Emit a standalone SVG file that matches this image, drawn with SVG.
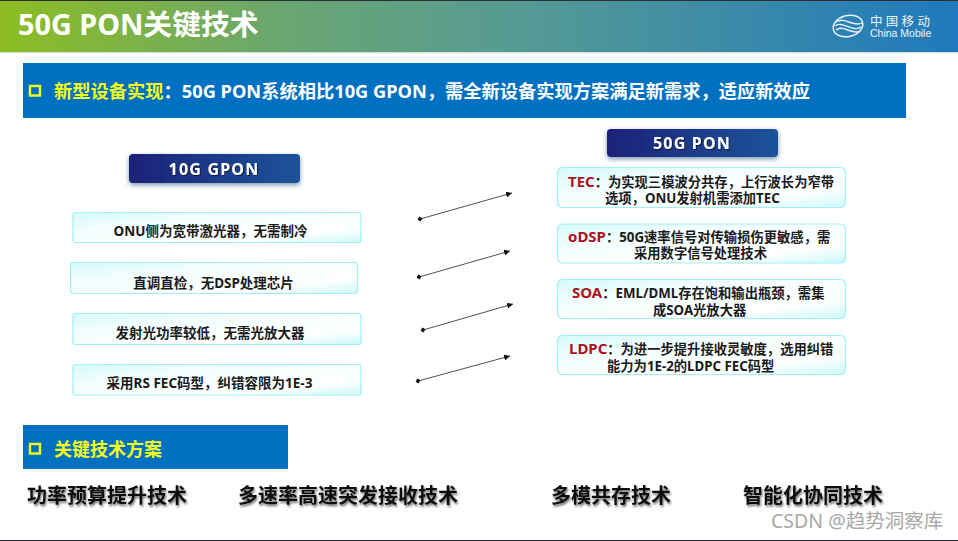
<svg xmlns="http://www.w3.org/2000/svg" width="958" height="541" viewBox="0 0 958 541">
<style>
text{font-family:"Noto Sans","Noto Sans CJK SC",sans-serif;font-weight:700}
.box{fill:url(#boxg);stroke:#a0f0f5;stroke-width:1.2}
.btn{fill:url(#btng);filter:url(#glow)}
.bt{fill:#fff;font-size:16px;letter-spacing:1.2px;text-anchor:middle;filter:url(#ds)}
.lt{fill:#1a1a1a;font-size:13.5px;text-anchor:middle}
.rt{fill:#1a1a1a;font-size:13.300px}
.red{fill:#b01020;font-size:15px}
.big{fill:#111;font-size:20px;filter:url(#ds2)}
.conn{stroke:#222;stroke-width:.8;fill:none;marker-start:url(#dot);marker-end:url(#arr)}
</style>
<defs>
<linearGradient id="top" x1="0" x2="1" y1="0" y2="0"><stop offset="0" stop-color="#8dbd22"/><stop offset=".3" stop-color="#6aa672"/><stop offset=".55" stop-color="#559a95"/><stop offset="1" stop-color="#1f79bd"/></linearGradient>
<linearGradient id="boxg" x1="0" x2="1" y1="0" y2="1"><stop offset="0" stop-color="#d4fafb"/><stop offset=".3" stop-color="#f2fdfd"/><stop offset=".75" stop-color="#fff"/><stop offset="1" stop-color="#cdf8f9"/></linearGradient>
<linearGradient id="btng" x1="0" x2="1" y1="0" y2="0"><stop offset="0" stop-color="#1f2277"/><stop offset="1" stop-color="#1c5499"/></linearGradient>
<filter id="glow" x="-10%" y="-30%" width="120%" height="170%"><feDropShadow dx="0" dy="2" stdDeviation="2.5" flood-color="#3a6a90" flood-opacity=".7"/></filter>
<filter id="ds" x="-10%" y="-30%" width="120%" height="170%"><feDropShadow dx="1" dy="1" stdDeviation=".6" flood-color="#000" flood-opacity=".6"/></filter>
<filter id="ds2" x="-10%" y="-30%" width="120%" height="170%"><feDropShadow dx="1" dy="2" stdDeviation="1.2" flood-color="#000" flood-opacity=".55"/></filter>
<marker id="arr" markerUnits="userSpaceOnUse" markerWidth="8" markerHeight="6" refX="6" refY="3" orient="auto"><path d="M0 0L6 3L0 6Z" fill="#111"/></marker>
<marker id="dot" markerUnits="userSpaceOnUse" markerWidth="6" markerHeight="6" refX="3" refY="3" orient="auto"><path d="M3 .5L5.5 3L3 5.5L.5 3Z" fill="#111"/></marker>
</defs>
<rect width="958" height="541" fill="#fff"/>
<rect width="958" height="1" fill="#2b2f33"/>
<rect y="1" width="958" height="51" fill="url(#top)"/>
<rect y="52" width="958" height="1.2" fill="#cfe3d6"/>
<text id="title" x="18" y="35" font-size="28.800" fill="#fff">50G PON关键技术</text>
<g id="logo" fill="none" stroke="#e8f2f8">
<ellipse cx="848" cy="26" rx="15" ry="10.500" stroke-width="1.500" transform="rotate(-14 848 26)"/>
<path d="M835 26C842 20 853 33 861 27M836 30C843 24 853 36 860 31M836 22C844 16 854 28 862 23" stroke-width="1.400"/>
<text fill="#eef5fa" stroke="none" style="font-weight:400"><tspan x="870" y="26" font-size="12.500" letter-spacing="3.300">中国移动</tspan><tspan x="870" y="37" font-size="10.500" style="font-family:'Liberation Sans',sans-serif">China Mobile</tspan></text>
</g>
<g id="banner1">
<rect x="23" y="63" width="883" height="55" fill="#0070c0"/>
<rect x="30" y="86" width="10" height="9.500" fill="none" stroke="#f4ff1e" stroke-width="2.400"/>
<text x="54" y="98" font-size="18.250"><tspan fill="#f4ff1e">新型设备实现</tspan><tspan fill="#fff">：50G PON系统相比10G GPON，需全新设备实现方案满足新需求，适应新效应</tspan></text>
</g>
<g id="gpon-head"><rect class="btn" x="129" y="154" width="171" height="29" rx="4"/><text class="bt" x="214" y="175">10G GPON</text></g>
<g id="pon-head"><rect class="btn" x="607" y="129" width="171" height="28" rx="4"/><text class="bt" x="692" y="149">50G PON</text></g>
<g id="l1"><rect class="box" x="73" y="212.500" width="288" height="30" rx="2.500"/><text class="lt" x="210.500" y="236">ONU侧为宽带激光器，无需制冷</text></g>
<g id="l2"><rect class="box" x="70.500" y="262.500" width="287" height="31" rx="2.500"/><text class="lt" x="213.500" y="288">直调直检，无DSP处理芯片</text></g>
<g id="l3"><rect class="box" x="73" y="313.500" width="288" height="31" rx="2.500"/><text class="lt" x="210" y="338">发射光功率较低，无需光放大器</text></g>
<g id="l4"><rect class="box" x="73" y="364.500" width="288" height="30.500" rx="2.500"/><text class="lt" x="209.500" y="388">采用RS FEC码型，纠错容限为1E-3</text></g>
<g id="r1"><rect class="box" x="557.500" y="167.500" width="288" height="40" rx="5"/><text class="rt"><tspan x="568" y="187"><tspan class="red">TEC</tspan>：为实现三模波分共存，上行波长为窄带</tspan><tspan x="605" y="203">选项，ONU发射机需添加TEC</tspan></text></g>
<g id="r2"><rect class="box" x="557.500" y="224" width="288" height="39" rx="5"/><text class="rt"><tspan x="568" y="242"><tspan class="red">oDSP</tspan>：50G速率信号对传输损伤更敏感，需</tspan><tspan x="634" y="258">采用数字信号处理技术</tspan></text></g>
<g id="r3"><rect class="box" x="557.500" y="279.500" width="288" height="39" rx="5"/><text class="rt"><tspan x="572" y="298"><tspan class="red">SOA</tspan>：EML/DML存在饱和输出瓶颈，需集</tspan><tspan x="653" y="315">成SOA光放大器</tspan></text></g>
<g id="r4"><rect class="box" x="557.500" y="335.500" width="288" height="39" rx="5"/><text class="rt"><tspan x="569" y="354"><tspan class="red">LDPC</tspan>：为进一步提升接收灵敏度，选用纠错</tspan><tspan x="607" y="371">能力为1E-2的LDPC FEC码型</tspan></text></g>
<g id="connectors">
<line class="conn" x1="420" y1="219" x2="512" y2="193"/>
<line class="conn" x1="419" y1="277" x2="510" y2="251"/>
<line class="conn" x1="423" y1="330" x2="513" y2="304"/>
<line class="conn" x1="418" y1="381" x2="510" y2="356"/>
</g>
<g id="banner2">
<rect x="23" y="425" width="265" height="44" fill="#0070c0"/>
<rect x="30" y="444" width="10" height="9.500" fill="none" stroke="#f4ff1e" stroke-width="2.400"/>
<text x="54" y="456" font-size="18" fill="#f4ff1e">关键技术方案</text>
</g>
<g id="t1"><text class="big" x="27" y="503">功率预算提升技术</text></g>
<g id="t2"><text class="big" x="238" y="503">多速率高速突发接收技术</text></g>
<g id="t3"><text class="big" x="551" y="503">多模共存技术</text></g>
<g id="t4"><text class="big" x="743" y="503">智能化协同技术</text></g>
<text id="wm" x="771" y="528" font-size="19.500" fill="#a8a8a8" style="font-weight:400">CSDN @趋势洞察库</text>
<rect y="540" width="958" height="1" fill="#2b2f33"/>
</svg>
